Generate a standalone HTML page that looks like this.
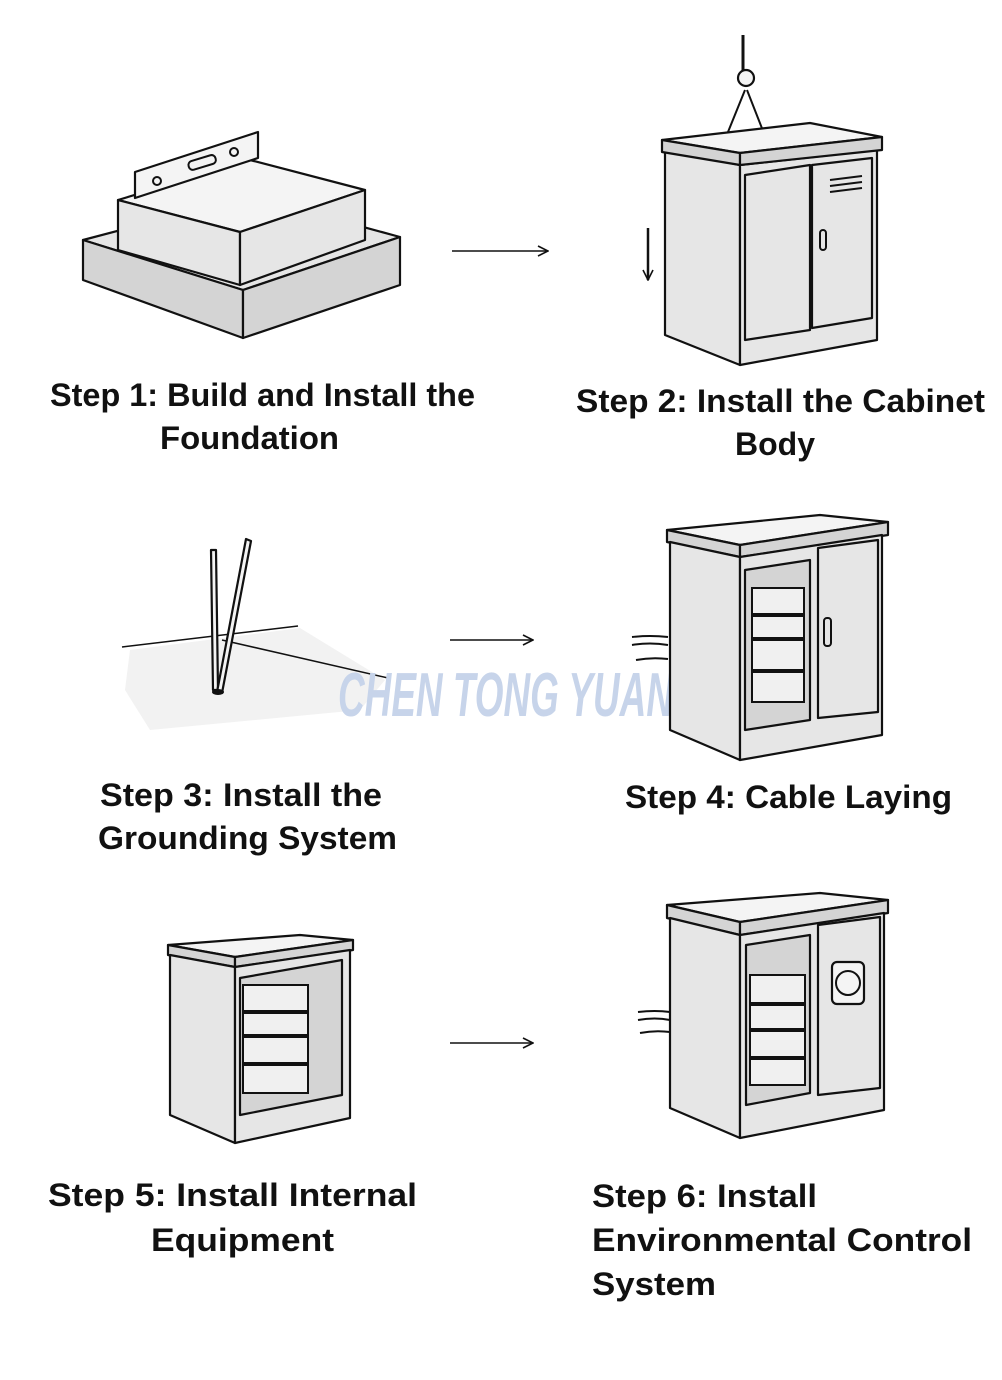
<!DOCTYPE html>
<html><head><meta charset="utf-8"><style>
html,body{margin:0;padding:0;background:#fff}
svg{display:block}
text{font-family:"Liberation Sans",Arial,sans-serif;font-weight:bold;fill:#111}
.f{fill:#e6e6e6;stroke:#111;stroke-width:2.2;stroke-linejoin:round}
.d{fill:#d4d4d4;stroke:#111;stroke-width:2.2;stroke-linejoin:round}
.w{fill:#f4f4f4;stroke:#111;stroke-width:2.2;stroke-linejoin:round}
.l{fill:none;stroke:#111;stroke-width:2}
</style></head><body>
<svg width="1002" height="1380" viewBox="0 0 1002 1380" xmlns="http://www.w3.org/2000/svg">
<rect width="1002" height="1380" fill="#fff"/>
<defs>
<marker id="ah" markerWidth="12" markerHeight="12" refX="11" refY="6" orient="auto" markerUnits="userSpaceOnUse">
<path d="M1,1 L11,6 L1,11" fill="none" stroke="#111" stroke-width="1.6"/></marker>
</defs>

<!-- Step 1 foundation -->
<polygon class="f" points="83,240 250,196 400,237 243,290"/>
<polygon class="d" points="83,240 243,290 243,338 83,280"/>
<polygon class="d" points="243,290 400,237 400,285 243,338"/>
<polygon class="w" points="118,200 250,160 365,190 240,232"/>
<polygon class="f" points="118,200 240,232 240,285 118,250"/>
<polygon class="f" points="240,232 365,190 365,240 240,285"/>
<polygon class="w" points="135,172 258,132 258,158 135,198"/>
<ellipse cx="157" cy="181" rx="4" ry="4" class="l"/>
<ellipse cx="234" cy="152" rx="4" ry="4" class="l"/>
<rect x="188" y="158" width="28" height="9" rx="4" class="l" transform="rotate(-17 202 162)"/>

<line x1="452" y1="251" x2="548" y2="251" stroke="#111" stroke-width="1.6" marker-end="url(#ah)"/>

<!-- Step 2 cabinet with hook -->
<line x1="743" y1="35" x2="743" y2="70" stroke="#111" stroke-width="3"/>
<circle cx="746" cy="78" r="8" class="w"/>
<path d="M745,90 L728,132 M747,90 L765,136" class="l"/>
<polygon class="w" points="662,140 810,123 882,137 740,153"/>
<polygon class="f" points="665,150 740,165 740,365 665,335"/>
<polygon class="f" points="740,165 877,150 877,340 740,365"/>
<polygon class="d" points="662,140 740,153 740,165 662,152"/>
<polygon class="d" points="740,153 882,137 882,150 740,165"/>
<polygon class="f" points="745,175 810,165 810,330 745,340"/>
<polygon class="f" points="812,165 872,158 872,318 812,328"/>
<rect x="820" y="230" width="6" height="20" rx="3" class="l"/>
<path d="M830,180 L862,176 M830,186 L862,182 M830,192 L862,188" class="l" stroke-width="1.5"/>
<line x1="648" y1="228" x2="648" y2="280" stroke="#111" stroke-width="2.5" marker-end="url(#ah)"/>

<text x="50" y="406" font-size="32" textLength="425" lengthAdjust="spacingAndGlyphs">Step 1: Build and Install the</text>
<text x="160" y="449" font-size="32" textLength="179" lengthAdjust="spacingAndGlyphs">Foundation</text>
<text x="576" y="412" font-size="32" textLength="409" lengthAdjust="spacingAndGlyphs">Step 2: Install the Cabinet</text>
<text x="735" y="455" font-size="32" textLength="80" lengthAdjust="spacingAndGlyphs">Body</text>

<!-- Step 3 grounding -->
<path d="M125,690 L130,650 L300,628 L385,680 L360,710 L150,730 Z" fill="#f2f2f2"/>
<line x1="122" y1="647" x2="298" y2="626" stroke="#111" stroke-width="1.5"/>
<line x1="222" y1="640" x2="388" y2="678" stroke="#111" stroke-width="1.5"/>
<path d="M211,550 L216,550 L218,690 L213,690 Z" class="w" stroke-width="1.5"/>
<path d="M246,539 L251,541 L222,693 L217,692 Z" class="w" stroke-width="1.5"/>
<ellipse cx="218" cy="692" rx="6" ry="3" fill="#111"/>

<!-- watermark -->
<text x="338" y="716" font-size="62" font-style="italic" style="fill:#c7d4ea" textLength="335" lengthAdjust="spacingAndGlyphs">CHEN TONG YUAN</text>

<line x1="450" y1="640" x2="533" y2="640" stroke="#111" stroke-width="1.6" marker-end="url(#ah)"/>

<!-- Step 4 cabinet -->
<polygon class="w" points="667,530 820,515 888,522 740,545"/>
<polygon class="d" points="667,530 740,545 740,557 667,542"/>
<polygon class="d" points="740,545 888,522 888,535 740,557"/>
<polygon class="f" points="670,542 740,557 740,760 670,730"/>
<polygon class="f" points="740,557 882,535 882,735 740,760"/>
<polygon class="d" points="745,570 810,560 810,720 745,730"/>
<polygon class="f" points="818,548 878,540 878,712 818,718"/>
<rect x="824" y="618" width="7" height="28" rx="3" class="l"/>
<g class="l" stroke-width="1.5">
<rect x="752" y="588" width="52" height="26" fill="#f0f0f0"/>
<rect x="752" y="616" width="52" height="22" fill="#f0f0f0"/>
<rect x="752" y="640" width="52" height="30" fill="#f0f0f0"/>
<rect x="752" y="672" width="52" height="30" fill="#f0f0f0"/>
</g>
<path d="M632,637 Q650,635 668,637 M632,645 Q650,642 668,645 M636,660 Q652,657 668,659" class="l" stroke-width="1.5"/>

<text x="100" y="806" font-size="32" textLength="282" lengthAdjust="spacingAndGlyphs">Step 3: Install the</text>
<text x="98" y="849" font-size="32" textLength="299" lengthAdjust="spacingAndGlyphs">Grounding System</text>
<text x="625" y="808" font-size="32" textLength="327" lengthAdjust="spacingAndGlyphs">Step 4: Cable Laying</text>

<!-- Step 5 cabinet -->
<polygon class="w" points="168,945 300,935 353,940 235,957"/>
<polygon class="d" points="168,945 235,957 235,967 168,955"/>
<polygon class="d" points="235,957 353,940 353,950 235,967"/>
<polygon class="f" points="170,955 235,967 235,1143 170,1115"/>
<polygon class="f" points="235,967 350,950 350,1118 235,1143"/>
<polygon class="d" points="240,978 342,960 342,1095 240,1115"/>
<g class="l" stroke-width="1.5">
<rect x="243" y="985" width="65" height="26" fill="#f0f0f0"/>
<rect x="243" y="1013" width="65" height="22" fill="#f0f0f0"/>
<rect x="243" y="1037" width="65" height="26" fill="#f0f0f0"/>
<rect x="243" y="1065" width="65" height="28" fill="#f0f0f0"/>
</g>

<line x1="450" y1="1043" x2="533" y2="1043" stroke="#111" stroke-width="1.6" marker-end="url(#ah)"/>

<!-- Step 6 cabinet -->
<polygon class="w" points="667,905 820,893 888,900 740,922"/>
<polygon class="d" points="667,905 740,922 740,935 667,918"/>
<polygon class="d" points="740,922 888,900 888,913 740,935"/>
<polygon class="f" points="670,918 740,935 740,1138 670,1108"/>
<polygon class="f" points="740,935 884,913 884,1110 740,1138"/>
<polygon class="d" points="746,945 810,935 810,1093 746,1105"/>
<polygon class="f" points="818,925 880,917 880,1088 818,1095"/>
<rect x="832" y="962" width="32" height="42" rx="5" class="w"/>
<circle cx="848" cy="983" r="12" class="l"/>
<g class="l" stroke-width="1.5">
<rect x="750" y="975" width="55" height="28" fill="#f0f0f0"/>
<rect x="750" y="1005" width="55" height="24" fill="#f0f0f0"/>
<rect x="750" y="1031" width="55" height="26" fill="#f0f0f0"/>
<rect x="750" y="1059" width="55" height="26" fill="#f0f0f0"/>
</g>
<path d="M638,1012 Q655,1010 670,1012 M638,1020 Q655,1017 670,1020 M640,1033 Q655,1030 670,1032" class="l" stroke-width="1.5"/>

<text x="48" y="1206" font-size="32" textLength="369" lengthAdjust="spacingAndGlyphs">Step 5: Install Internal</text>
<text x="151" y="1251" font-size="32" textLength="183" lengthAdjust="spacingAndGlyphs">Equipment</text>
<text x="592" y="1207" font-size="32" textLength="225" lengthAdjust="spacingAndGlyphs">Step 6: Install</text>
<text x="592" y="1251" font-size="32" textLength="380" lengthAdjust="spacingAndGlyphs">Environmental Control</text>
<text x="592" y="1295" font-size="32" textLength="124" lengthAdjust="spacingAndGlyphs">System</text>
</svg>
</body></html>
